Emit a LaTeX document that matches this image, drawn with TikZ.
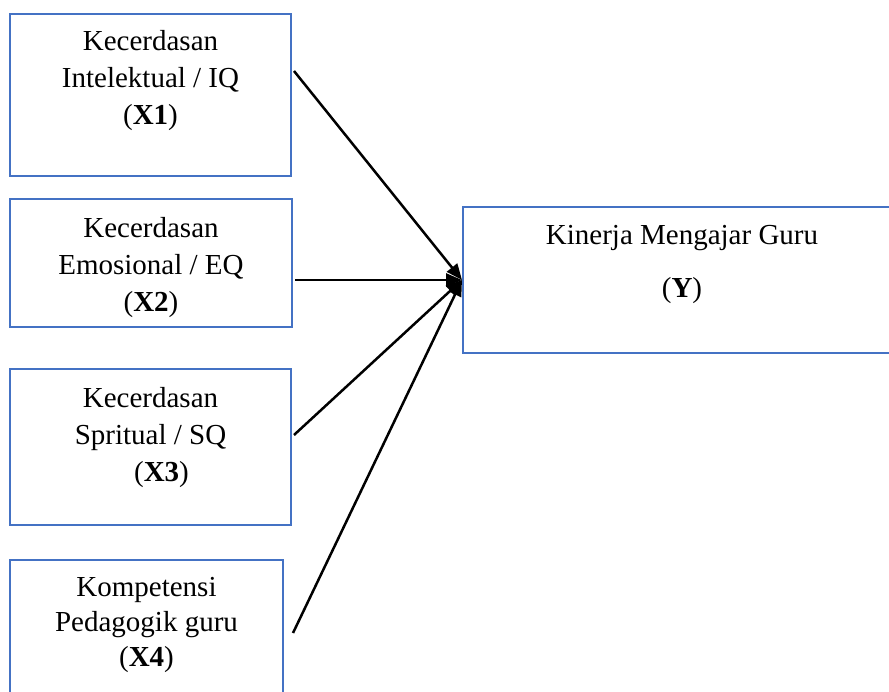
\documentclass[tikz,border=0pt]{standalone}
\usepackage{fontspec}
\setmainfont{Liberation Serif}
\usepackage{tikz}
\usetikzlibrary{arrows.meta,positioning}
\definecolor{WordBlue}{HTML}{4472C4}
\tikzset{
  var/box/.style={draw=WordBlue, line width=2pt, fill=white, minimum width=281pt, inner sep=0pt},
  var/text/.style={align=center, inner sep=0pt, font=\fontsize{29}{37}\selectfont},
  var/arr/.style={line width=2.5pt, -{Triangle[length=16pt,width=13pt]}}
}
\newcommand{\vlabel}[1]{(\textbf{#1})}

\begin{document}
\begin{tikzpicture}[x=1pt, y=-1pt]
\path[use as bounding box, fill=white] (0,0) rectangle (889,692);
\node[var/box, minimum height=162pt, anchor=north west] (x1) at (9,13) {};
\node[var/box, minimum width=282pt, minimum height=128pt, below=21pt of x1.south west, anchor=north west] (x2) {};
\node[var/box, minimum height=156pt, below=40pt of x2.south west, anchor=north west] (x3) {};
\node[var/box, minimum width=273pt, minimum height=150pt, below=33pt of x3.south west, anchor=north west] (x4) {};
\node[var/box, minimum width=438pt, minimum height=146pt, right=169pt of x2.north east, anchor=north west, yshift=-8pt] (y) {};
\node[var/text, below=17pt of x1.north] (x1t) {Kecerdasan\\Intelektual / IQ\\\vlabel{X1}};
\node[var/text, below=19pt of x2.north] (x2t) {Kecerdasan\\Emosional / EQ\\\vlabel{X2}};
\node[var/text, below=19pt of x3.north] (x3t) {Kecerdasan\\Spritual / SQ\\\hspace*{22pt}\vlabel{X3}};
\node[var/text, below=18pt of x4.north, font=\fontsize{29}{35}\selectfont] (x4t) {Kompetensi\\Pedagogik guru\\\vlabel{X4}};
\node[var/text, below=19pt of y.north] (yt) {Kinerja Mengajar Guru\\[16pt]\vlabel{Y}};
\draw[var/arr] ([xshift=2pt,yshift=24pt]x1.east) -- (y.west);
\draw[var/arr] ([xshift=2pt,yshift=-17pt]x2.east) -- (y.west);
\draw[var/arr] ([xshift=2pt,yshift=12pt]x3.east) -- (y.west);
\draw[var/arr] ([xshift=9pt,yshift=2pt]x4.east) -- (y.west);
\end{tikzpicture}
\end{document}
